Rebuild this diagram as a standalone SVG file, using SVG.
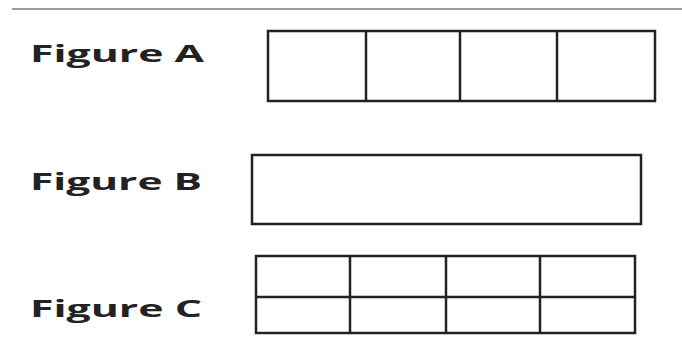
<svg xmlns="http://www.w3.org/2000/svg" width="682" height="341" viewBox="0 0 682 341">
<style>
.lbl{font-family:"Open Sans","Liberation Sans",sans-serif;font-weight:bold;font-size:24px;fill:#222}
.box{fill:none;stroke:#222;stroke-width:2.5}
.div{stroke:#222;stroke-width:2.5}
</style>
<rect width="682" height="341" fill="#fff"/>
<line x1="12" y1="9" x2="682" y2="9" stroke="#9a9a9a" stroke-width="2"/>
<g id="figA">
<text class="lbl" x="30" y="62" textLength="174" lengthAdjust="spacingAndGlyphs">Figure A</text>
<rect class="box" x="268" y="31" width="387" height="70"/>
<line class="div" x1="366" y1="31" x2="366" y2="101"/>
<line class="div" x1="460" y1="31" x2="460" y2="101"/>
<line class="div" x1="557" y1="31" x2="557" y2="101"/>
</g>
<g id="figB">
<text class="lbl" x="30" y="190" textLength="172" lengthAdjust="spacingAndGlyphs">Figure B</text>
<rect class="box" x="252" y="155" width="389" height="69"/>
</g>
<g id="figC">
<text class="lbl" x="30" y="317" textLength="172" lengthAdjust="spacingAndGlyphs">Figure C</text>
<rect class="box" x="256" y="256" width="379" height="77"/>
<line class="div" x1="256" y1="297" x2="635" y2="297"/>
<line class="div" x1="350" y1="256" x2="350" y2="333"/>
<line class="div" x1="446" y1="256" x2="446" y2="333"/>
<line class="div" x1="540" y1="256" x2="540" y2="333"/>
</g>
</svg>
